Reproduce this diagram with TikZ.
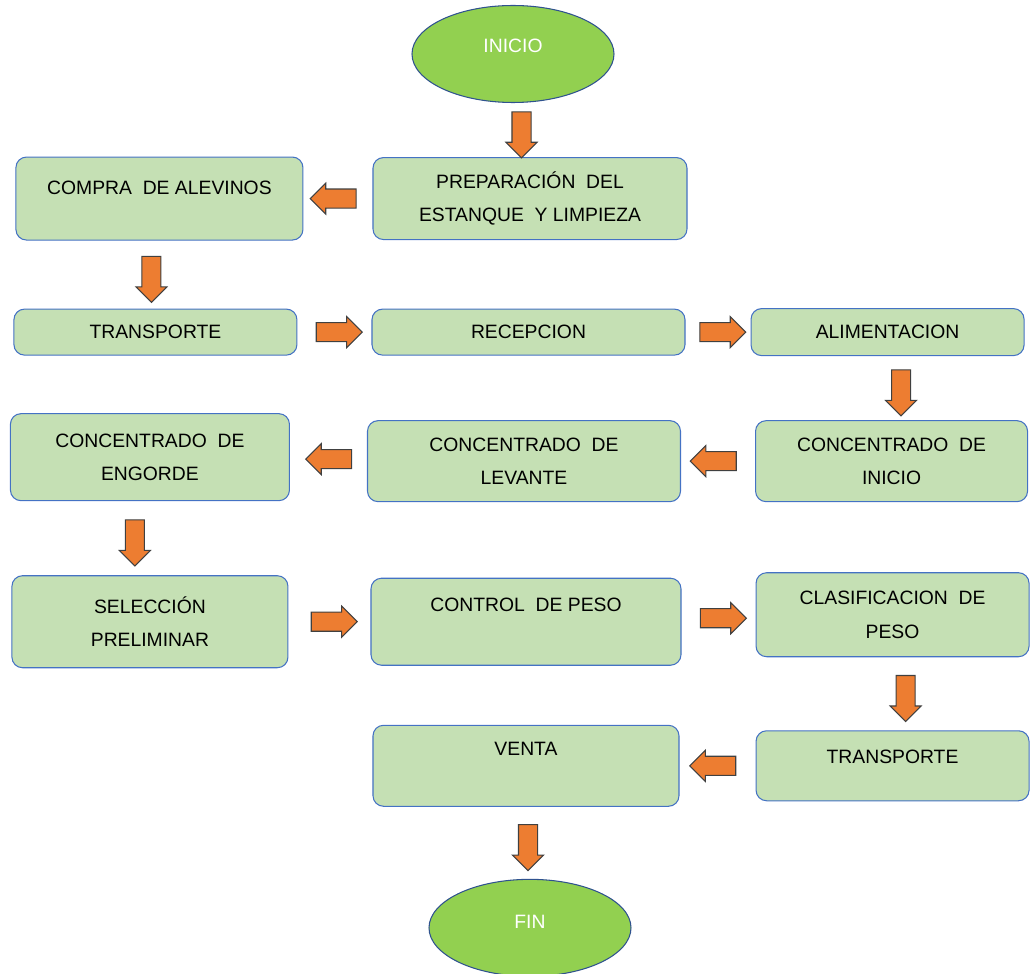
\documentclass[tikz,border=0pt]{standalone}
\usepackage{fontspec}
\setmainfont{Liberation Sans}
\usepackage{tikz}
\usetikzlibrary{shapes.geometric, shapes.arrows, positioning}
\usepackage{xcolor}
\definecolor{boxfill}{HTML}{C5E0B4}
\definecolor{boxline}{HTML}{4472C4}
\definecolor{ovalfill}{HTML}{92D050}
\definecolor{ovalline}{HTML}{2F528F}
\definecolor{arrowfill}{HTML}{ED7D31}
\definecolor{arrowline}{HTML}{404040}
\tikzstyle{block} = [rectangle, rounded corners=6pt, align=center, draw=boxline, fill=boxfill, line width=0.6pt, inner sep=2pt, font=\fontsize{11}{19}\selectfont]
\tikzstyle{oval}  = [ellipse, minimum width=4.04cm, minimum height=1.94cm, align=center, draw=ovalline, fill=ovalfill, line width=0.6pt, text=white, font=\fontsize{11}{13}\selectfont]
\tikzstyle{barrow} = [single arrow, minimum height=0.92cm, single arrow head extend=0.12cm, inner sep=0.18cm, draw=arrowline, fill=arrowfill, line width=0.6pt]
\tikzstyle{downarrow}  = [barrow, shape border rotate=270]
\tikzstyle{leftarrow}  = [barrow, shape border rotate=180]
\tikzstyle{rightarrow} = [barrow]

\begin{document}
\begin{tikzpicture}
  \useasboundingbox (-10.26,1.08) rectangle (10.36,-18.38);

  % Start
  \node[oval] (inicio) {INICIO\\[-4pt]~};

  % Row 1
  \node[block, minimum width=6.28cm, minimum height=1.64cm, below=1.08cm of inicio, xshift=0.34cm] (prep) {PREPARACIÓN~ DEL\\ESTANQUE~ Y LIMPIEZA};
  \node[block, minimum width=5.74cm, minimum height=1.66cm, left=1.38cm of prep] (compra) {COMPRA~ DE ALEVINOS\\[-7pt]~};

  % Row 2
  \node[block, minimum width=5.66cm, minimum height=0.92cm, below=1.36cm of compra, xshift=-0.08cm] (transA) {TRANSPORTE};
  \node[block, minimum width=6.26cm, minimum height=0.92cm, right=1.48cm of transA] (recep) {RECEPCION};
  \node[block, minimum width=5.46cm, minimum height=0.94cm, right=1.3cm of recep] (alim) {ALIMENTACION};

  % Row 3
  \node[block, minimum width=5.44cm, minimum height=1.62cm, below=1.28cm of alim, xshift=0.08cm] (cinicio) {CONCENTRADO~ DE\\INICIO};
  \node[block, minimum width=6.26cm, minimum height=1.62cm, left=1.48cm of cinicio] (levante) {CONCENTRADO~ DE\\LEVANTE};
  \node[block, minimum width=5.58cm, minimum height=1.74cm, left=1.54cm of levante, yshift=0.08cm] (engorde) {CONCENTRADO~ DE\\ENGORDE};

  % Row 4
  \node[block, minimum width=5.52cm, minimum height=1.84cm, below=1.48cm of engorde] (selec) {SELECCIÓN\\PRELIMINAR};
  \node[block, minimum width=6.2cm, minimum height=1.74cm, right=1.64cm of selec] (control) {CONTROL~ DE PESO\\~};
  \node[block, minimum width=5.46cm, minimum height=1.68cm, right=1.48cm of control, yshift=0.14cm] (clasif) {CLASIFICACION~ DE\\PESO};

  % Row 5
  \node[block, minimum width=5.46cm, minimum height=1.4cm, below=1.46cm of clasif] (transB) {TRANSPORTE\\[-9pt]~};
  \node[block, minimum width=6.12cm, minimum height=1.62cm, left=1.52cm of transB] (venta) {VENTA\\~};

  % End
  \node[oval, below=1.44cm of venta, xshift=0.08cm] (fin) {FIN\\[-6pt]~};

  % Connections
  \path (inicio.south) -- node[downarrow] (a1) {} (prep.north);
  \path (prep.west) -- node[leftarrow] (a2) {} (compra.east);
  \path (compra.south) -- node[downarrow, xshift=-0.12cm] (a3) {} (transA.north);
  \path (transA.east) -- node[rightarrow] (a4) {} (recep.west);
  \path (recep.east) -- node[rightarrow] (a5) {} (alim.west);
  \path (alim.south) -- node[downarrow, xshift=0.23cm] (a6) {} (cinicio.north);
  \path (cinicio.west) -- node[leftarrow] (a7) {} (levante.east);
  \path (levante.west) -- node[leftarrow, xshift=0.1cm] (a8) {} (engorde.east);
  \path (engorde.south) -- node[downarrow, xshift=-0.3cm] (a9) {} (selec.north);
  \path (selec.east) -- node[rightarrow] (a10) {} (control.west);
  \path (control.east) -- node[rightarrow] (a11) {} (clasif.west);
  \path (clasif.south) -- node[downarrow, xshift=0.26cm] (a12) {} (transB.north);
  \path (transB.west) -- node[leftarrow] (a13) {} (venta.east);
  \path (venta.south) -- node[downarrow] (a14) {} (fin.north);
\end{tikzpicture}
\end{document}
